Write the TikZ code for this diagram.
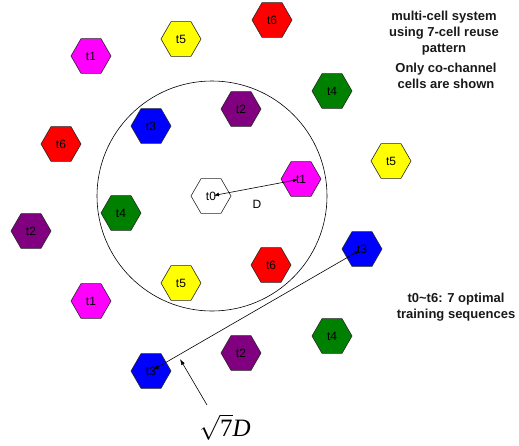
\documentclass[tikz,border=0pt]{standalone}
\usepackage{fontspec}
\setmainfont{Liberation Sans}
\newfontfamily\serifr{Liberation Serif}
\usetikzlibrary{shapes.geometric,arrows.meta}
\begin{document}
\begin{tikzpicture}[x=1pt,y=-1pt,
  hexcell/.style={regular polygon,regular polygon sides=6,minimum size=40pt,inner sep=0pt,
    draw=black!85,line width=0.6pt,font=\fontsize{12}{14}\selectfont},
  conn/.style={line width=0.6pt,{Latex[length=5pt,width=4pt]}-{Latex[length=5pt,width=4pt]},shorten <=3pt,shorten >=3pt},
  note/.style={align=center,font=\bfseries\fontsize{13}{16}\selectfont,text=black!90}]
\useasboundingbox (0,0) rectangle (519,445);
\definecolor{cmag}{RGB}{255,0,255}
\definecolor{cyel}{RGB}{255,255,0}
\definecolor{cred}{RGB}{255,0,0}
\definecolor{cpur}{RGB}{128,0,128}
\definecolor{cblu}{RGB}{0,0,255}
\definecolor{cgrn}{RGB}{0,128,0}
% circle
\draw[line width=0.6pt] (212,196) circle[radius=115];
% cells
\node[hexcell,fill=cmag] (a1) at (91,56) {t1};
\node[hexcell,fill=cyel] (a5) at (181,39) {t5};
\node[hexcell,fill=cred] (a6) at (272,20) {t6};
\node[hexcell,fill=cpur] (b2) at (241,109) {t2};
\node[hexcell,fill=cblu] (b3) at (151,126) {t3};
\node[hexcell,fill=cred] (c6) at (61,144) {t6};
\node[hexcell,fill=white] (t0) at (211,196) {t0};
\node[hexcell,fill=cgrn] (b4) at (121,213) {t4};
\node[hexcell,fill=cgrn] (c4) at (332,91) {t4};
\node[hexcell,fill=cyel] (c5) at (391,161) {t5};
\node[hexcell,fill=cmag] (b1) at (301,179) {t1};
\node[hexcell,fill=cpur] (c2) at (31,231) {t2};
\node[hexcell,fill=cyel] (b5) at (181,283) {t5};
\node[hexcell,fill=cmag] (c1) at (91,301) {t1};
\node[hexcell,fill=cpur] (d2) at (241,353) {t2};
\node[hexcell,fill=cblu] (d3) at (151,371) {t3};
\node[hexcell,fill=cred] (b6) at (271,265) {t6};
\node[hexcell,fill=cblu] (c3) at (362,249) {t3};
\node[hexcell,fill=cgrn] (d4) at (332,336) {t4};
% distances
\draw[conn] (b1.center) -- (t0.center);
\node[font=\fontsize{12}{14}\selectfont] (dl) at (257,204) {D};
\draw[conn] (c3.center) -- (d3.center);
\node[inner sep=0pt] (sq) at (225,427) {\fontsize{25}{28}\selectfont$\sqrt{\hbox{\serifr 7}}\hbox{\serifr\itshape D}$};
\coordinate (q) at (207,405);
\coordinate (p) at (180,359);
\draw[line width=0.6pt,-{Latex[length=6pt,width=4pt]}] (q) -- (p);
% notes
\node[note] (n1) at (444,33) {multi-cell system\\using 7-cell reuse\\pattern};
\node[note] (n2) at (446,76) {Only co-channel\\cells are shown};
\node[note] (n3) at (456,307) {t0\textasciitilde t6: 7 optimal\\training sequences};
\end{tikzpicture}
\end{document}
